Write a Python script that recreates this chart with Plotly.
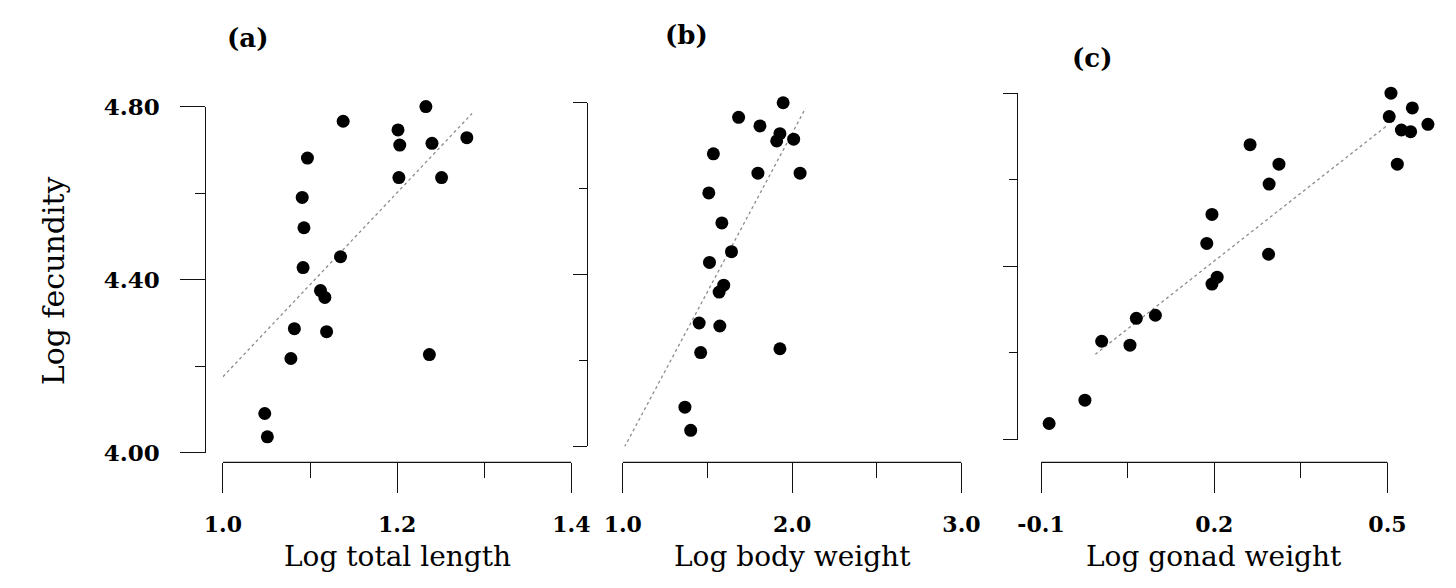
import plotly.graph_objects as go

# Log fecundity of each fish (shared by all three panels)
log_fecundity = [4.800, 4.766, 4.746, 4.728, 4.715, 4.711, 4.681, 4.636, 4.636,
                 4.590, 4.520, 4.453, 4.428, 4.375, 4.359, 4.287, 4.280, 4.227,
                 4.218, 4.091, 4.037]

# Predictor for each fish, in the same order
log_total_length = [1.233, 1.138, 1.201, 1.280, 1.240, 1.203, 1.097, 1.202, 1.251,
                    1.091, 1.093, 1.135, 1.092, 1.112, 1.117, 1.082, 1.119, 1.237,
                    1.078, 1.048, 1.051]
log_body_weight = [1.947, 1.684, 1.810, 1.928, 2.009, 1.909, 1.535, 1.798, 2.047,
                   1.508, 1.585, 1.642, 1.512, 1.596, 1.569, 1.451, 1.573, 1.928,
                   1.460, 1.367, 1.401]
log_gonad_weight = [0.506, 0.543, 0.503, 0.570, 0.524, 0.540, 0.262, 0.312, 0.517,
                    0.295, 0.196, 0.187, 0.294, 0.205, 0.196, 0.098, 0.065, 0.005,
                    0.054, -0.024, -0.086]

# Fitted regression line end points
fit_length_x = [1.000, 1.286]
fit_length_y = [4.176, 4.784]
fit_body_x = [1.010, 2.079]
fit_body_y = [3.998, 4.787]
fit_gonad_x = [-0.006, 0.500]
fit_gonad_y = [4.197, 4.726]

# Axis ticks
y_ticks = [4.0, 4.4, 4.8]
y_tick_text = ["4.00", "4.40", "4.80"]
y_minor = [4.2, 4.6]
length_ticks = [1.0, 1.2, 1.4]
length_minor = [1.1, 1.3]
body_ticks = [1.0, 2.0, 3.0]
body_minor = [1.5, 2.5]
gonad_ticks = [-0.1, 0.2, 0.5]
gonad_minor = [0.05, 0.35]

panel_labels = ["(a)", "(b)", "(c)"]
x_titles = ["Log total length", "Log body weight", "Log gonad weight"]
y_title = "Log fecundity"

W, H = 1456, 588
px = lambda v: v / W
py = lambda v: 1 - v / H

SERIF = "DejaVu Serif"
INK = "#111111"
AXIS_Y = 470  # baseline of the detached x axes

fig = go.Figure()

# Each panel: the axis line spans the first..last tick; the plotted range may
# run a little past it so that points beyond the last tick stay visible.
panels = [
    dict(x=log_total_length, fx=fit_length_x, fy=fit_length_y, xr=[1.0, 1.4],
         xt=length_ticks, xm=length_minor, xdom=(205, 564), ydom=(97, 460), ypos=187),
    dict(x=log_body_weight, fx=fit_body_x, fy=fit_body_y, xr=[1.0, 3.0],
         xt=body_ticks, xm=body_minor, xdom=(617, 966), ydom=(93, 453), ypos=580),
    dict(x=log_gonad_weight, fx=fit_gonad_x, fy=fit_gonad_y, xr=[-0.1, 0.58],
         xt=gonad_ticks, xm=gonad_minor, xdom=(1048, 1048 + 357 * 0.68 / 0.6),
         ydom=(83, 446), ypos=1023),
]

layout_axes = {}
shapes = []
for i, p in enumerate(panels, start=1):
    xa = "x" if i == 1 else f"x{i}"
    ya = "y" if i == 1 else f"y{i}"
    fig.add_trace(go.Scatter(
        x=p["fx"], y=p["fy"], mode="lines", xaxis=xa, yaxis=ya,
        line=dict(color="#8c8c8c", width=1.3, dash="dot"),
        hoverinfo="skip", showlegend=False, cliponaxis=False))
    fig.add_trace(go.Scatter(
        x=p["x"], y=log_fecundity, mode="markers", xaxis=xa, yaxis=ya,
        marker=dict(color="black", size=13, line=dict(width=0)),
        showlegend=False, cliponaxis=False))

    # detached x-axis line from first to last tick
    shapes.append(dict(type="line", xref=xa, yref="paper",
                       x0=p["xt"][0], x1=p["xt"][-1],
                       y0=py(AXIS_Y), y1=py(AXIS_Y),
                       line=dict(color=INK, width=1.3), layer="above"))

    xkey = "xaxis" if i == 1 else f"xaxis{i}"
    ykey = "yaxis" if i == 1 else f"yaxis{i}"
    layout_axes[xkey] = dict(
        domain=[px(p["xdom"][0]), px(p["xdom"][1])], range=p["xr"],
        anchor="free", position=py(AXIS_Y),
        showline=False, showgrid=False, zeroline=False,
        ticks="outside", ticklen=30, tickwidth=1.3, tickcolor=INK,
        tickvals=p["xt"], ticktext=[f"{v:.1f}" for v in p["xt"]],
        ticklabelstandoff=12,
        tickfont=dict(family=SERIF, size=22, color="black", weight="bold"),
        minor=dict(tickvals=p["xm"], ticklen=15, tickwidth=1.3, tickcolor=INK,
                   ticks="outside"),
    )
    yax = dict(
        domain=[py(p["ydom"][1]), py(p["ydom"][0])], range=[4.0, 4.8],
        anchor="free", position=px(p["ypos"]),
        showline=True, linecolor=INK, linewidth=1.3, showgrid=False, zeroline=False,
        ticks="outside", tickwidth=1.3, tickcolor=INK, tickvals=y_ticks,
    )
    if i == 1:
        yax.update(ticklen=25, ticktext=y_tick_text, ticklabelstandoff=16,
                   tickfont=dict(family=SERIF, size=23, color="black", weight="bold"),
                   minor=dict(tickvals=y_minor, ticklen=10, tickwidth=1.3,
                              tickcolor=INK, ticks="outside"))
    else:
        yax.update(ticklen=14, showticklabels=False,
                   minor=dict(tickvals=y_minor, ticklen=8, tickwidth=1.3,
                              tickcolor=INK, ticks="outside"))
    layout_axes[ykey] = yax

annotations = []
for label, (lx, ly) in zip(panel_labels, [(230, 25), (683, 22), (1100, 46)]):
    annotations.append(dict(
        text=label, x=px(lx), y=py(ly), xref="paper", yref="paper",
        showarrow=False, xanchor="center", yanchor="middle",
        font=dict(family=SERIF, size=26, color="black", weight="bold")))
for title, cx in zip(x_titles, [385, 792, 1226]):
    annotations.append(dict(
        text=title, x=px(cx), y=0, xref="paper", yref="paper",
        showarrow=False, xanchor="center", yanchor="bottom",
        font=dict(family=SERIF, size=28, color="black")))
annotations.append(dict(
    text=y_title, x=px(30), y=py(280), xref="paper", yref="paper",
    showarrow=False, xanchor="center", yanchor="middle", textangle=-90,
    font=dict(family=SERIF, size=30, color="black")))

fig.update_layout(
    width=W, height=H, margin=dict(l=0, r=0, t=0, b=0),
    paper_bgcolor="white", plot_bgcolor="white",
    annotations=annotations, shapes=shapes, **layout_axes)

fig.write_html("out.html")
